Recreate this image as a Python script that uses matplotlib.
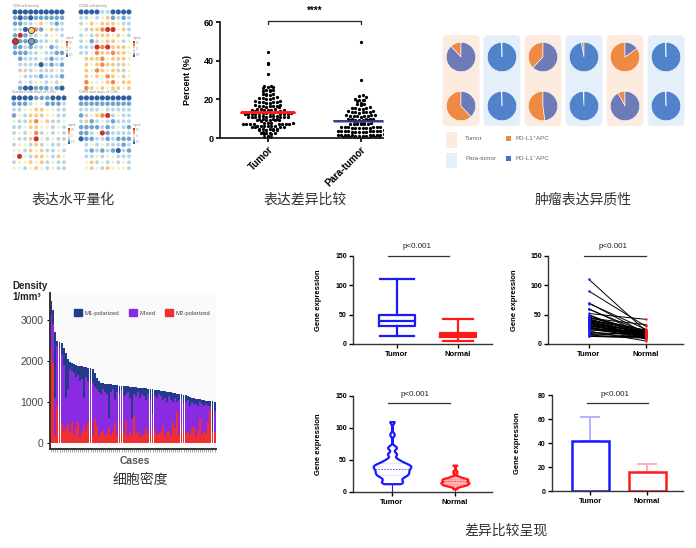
import numpy as np
import matplotlib
matplotlib.use("Agg")
import matplotlib.pyplot as plt
from matplotlib.patches import FancyBboxPatch, Rectangle
from matplotlib.colors import ListedColormap

# ======================= DATA =======================
# --- dot-matrix heatmaps (levels 0 = strong low/blue ... 6 = strong high/red, '.' = empty)
heat_titles = ["CD8 cell density", "CD68 cell density",
               "Number near days of CD8+", "CD68 near days of CD8+"]
heat_a = ["0000000000", "1010111111", "1122343212", "2204513422", "1612232332",
          "6111122323", "1121223123", "1112232211", ".122232122", ".222202121",
          ".242322232", ".322212221", ".232332323", ".100111210"]
heat_b = ["0000220000", "2232341212", "2343444322", "3244566342", "2324443432",
          "2312344323", "2226564443", "2235445443", ".444534443", ".434544243",
          ".435434423", ".434354343", ".533345344", ".543434434"]
heat_c = ["0000111000", "1112331112", "2233443322", "1324443322", "3224534223",
          "2234433232", "2323523232", "3224632322", "2332423223", "3324342232",
          "3632443243", "2334342322", "3323432322"]
heat_d = ["0000000000", "1111111111", "2222322222", "1234562322", "2412321222",
          "1111212321", "1123612222", "0112212111", ".232322212", ".212121021",
          ".223233222", ".342323232", ".343243332"]
heat_highlight_a = [(3, 3), (5, 0), (5, 3)]   # (row, col) of outlined dots

# --- percent scatter (Tumor vs Para-tumor)
dot_groups = ["Tumor", "Para-tumor"]
tumor_pct = [44.5, 38.2, 38.8, 33.0,
             26.2, 26.5, 26.8, 26.0, 27.0, 24.3, 24.6, 24.9, 24.1, 25.0,
             22.4, 22.8, 22.1, 23.0, 22.6, 20.2, 20.5, 20.8, 20.0, 21.0, 20.6,
             18.4, 18.7, 18.2, 19.0, 18.5, 18.9, 18.1, 18.6,
             16.5, 16.2, 16.8, 17.0, 16.4, 16.6, 16.1, 16.9, 16.3,
             14.5, 14.8, 14.2, 15.0, 14.6, 14.4, 14.9, 14.1, 14.7, 14.3,
             12.6, 12.9, 12.3, 13.1, 12.7, 12.5, 13.0, 12.4, 12.8, 12.2, 13.2, 12.6, 12.9, 12.5,
             10.9, 11.2, 11.0, 11.4, 10.8, 11.1, 11.3, 10.7, 11.5, 11.0, 11.2, 10.9,
             9.3, 9.6, 9.0, 9.8, 9.4, 9.2, 9.7, 9.5, 9.1, 9.9,
             7.4, 7.7, 7.1, 7.9, 7.5, 7.3, 7.6, 7.2, 7.8, 7.0, 7.5, 7.4,
             5.9, 6.2, 5.8, 6.0, 6.3, 5.7, 6.1, 6.4, 5.9, 6.0,
             4.2, 4.5, 4.0, 4.8, 4.3, 4.6, 4.1, 4.7, 4.4,
             2.4, 2.7, 2.1, 2.9, 2.5, 2.3, 2.6, 0.5, 0.9, 0.3, 0.7]
para_pct = [49.5, 30.2, 21.0, 21.6, 22.2,
            19.2, 19.6, 20.0, 19.4, 19.8, 17.3, 17.8, 17.5, 18.0,
            15.2, 15.6, 15.9, 15.4, 15.1, 15.7,
            13.2, 13.5, 13.8, 13.1, 13.6, 13.9, 13.4, 13.7,
            11.2, 11.5, 11.8, 11.1, 11.6, 11.9, 11.4, 11.7, 11.3,
            9.1, 9.4, 9.7, 9.2, 9.5, 9.8, 9.3, 9.6, 9.9, 9.0, 9.4, 9.7,
            7.2, 7.5, 7.8, 7.1, 7.6, 7.9, 7.3, 7.4, 7.7, 7.0,
            5.1, 5.4, 5.7, 5.2, 5.5, 5.8, 5.3, 5.6, 5.9, 5.0, 5.4, 5.7,
            3.1, 3.4, 3.7, 3.2, 3.5, 3.8, 3.3, 3.6, 3.9, 3.0, 3.4, 3.7, 3.2, 3.5,
            1.1, 1.4, 1.7, 1.2, 1.5, 1.8, 1.3, 1.6, 1.9, 1.0, 1.4, 1.7, 1.2, 1.5,
            0.1, 0.3, 0.5, 0.2, 0.4, 0.0, 0.3, 0.1, 0.5, 0.2, 0.4]

# --- pies: PD-L1+ APC fraction, 6 samples x 2 rows
pie_kind = ["Tumor", "Para-tumor", "Tumor", "Para-tumor", "Tumor", "Para-tumor"]
pie_pos_top = [0.12, 0.004, 0.38, 0.03, 0.85, 0.004]
pie_pos_bottom = [0.62, 0.004, 0.52, 0.01, 0.08, 0.004]

# --- macrophage density stacked bars (80 cases)
dens_total = [3450, 3230, 2700, 2480, 2460, 2440, 2300, 2200, 2050, 1980,
              1950, 1920, 1890, 1880, 1870, 1860, 1850, 1840, 1830, 1820,
              1800, 1700, 1580, 1500, 1460, 1450, 1440, 1435, 1430, 1425,
              1420, 1410, 1400, 1395, 1390, 1385, 1380, 1375, 1370, 1360,
              1355, 1350, 1345, 1340, 1335, 1330, 1325, 1320, 1310, 1300,
              1290, 1285, 1280, 1275, 1270, 1260, 1250, 1240, 1230, 1220,
              1210, 1200, 1190, 1180, 1170, 1160, 1150, 1120, 1100, 1090,
              1080, 1070, 1060, 1050, 1040, 1030, 1020, 1015, 1010, 1000]
dens_mixed_top = [3150, 2900, 1100, 2350, 2300, 2150, 1900, 1100, 1300, 1800,
                  1750, 1700, 1600, 1650, 1500, 1550, 1100, 1600, 1500, 1550,
                  1450, 1350, 1300, 1250, 1200, 1300, 1250, 1200, 600, 1250,
                  1300, 1050, 1250, 1200, 1300, 1150, 1200, 1250, 1100, 600,
                  1200, 1150, 1250, 1100, 1200, 1150, 1050, 1200, 1100, 700,
                  1150, 1100, 1200, 1150, 1050, 1100, 1000, 1150, 1050, 1000,
                  1100, 1000, 1050, 1100, 950, 1000, 1050, 900, 1000, 950,
                  950, 900, 1000, 950, 900, 950, 900, 900, 300, 780]
dens_m2 = [2300, 1950, 200, 900, 700, 450, 300, 380, 470, 250,
           500, 200, 380, 500, 150, 260, 425, 300, 500, 630,
           200, 590, 400, 150, 260, 300, 200, 220, 350, 180,
           300, 480, 200, 500, 300, 250, 550, 150, 300, 200,
           670, 250, 300, 150, 200, 220, 350, 250, 180, 380,
           300, 200, 250, 260, 400, 150, 260, 300, 200, 500,
           350, 750, 200, 470, 300, 250, 260, 200, 350, 380,
           150, 300, 590, 200, 300, 250, 500, 810, 250, 260]
dens_labels = ["M1-polarized", "Mixed", "M2-polarized"]

# --- gene expression comparison
ge_groups = ["Tumor", "Normal"]
box_tumor = [13, 30, 40, 49, 110]      # whislo, q1, median, q3, whishi
box_normal = [5, 12, 15, 18, 42]
paired_tumor = [110, 90, 70, 69, 60, 59, 52, 50, 48, 46, 45, 44, 43, 42, 41, 40, 40, 39, 38, 37,
                36, 35, 34, 33, 32, 31, 30, 29, 28, 27, 26, 25, 24, 22, 20, 18, 16, 15, 14, 13]
paired_normal = [22, 30, 18, 25, 15, 20, 42, 12, 19, 17, 23, 33, 14, 21, 16, 11, 24, 8, 18, 13,
                 20, 15, 10, 22, 17, 14, 19, 12, 9, 16, 21, 13, 18, 5, 15, 12, 20, 11, 14, 10]
bar_mean = [42, 16]
bar_sd = [20, 6.5]
p_text = "p<0.001"

captions = ["表达水平量化", "表达差异比较", "肿瘤表达异质性", "细胞密度", "差异比较呈现"]

# ======================= FIGURE =======================
W, H = 696, 548
plt.rcParams['font.family'] = ['Liberation Sans', 'DejaVu Sans']
fig = plt.figure(figsize=(W / 100, H / 100), dpi=100)


def px_axes(l, t, r, b, **kw):
    ax = fig.add_axes([l / W, 1 - b / H, (r - l) / W, (b - t) / H], **kw)
    ax.set_facecolor('none')
    return ax


overlay = px_axes(0, 0, W, H)
overlay.set_xlim(0, W)
overlay.set_ylim(H, 0)
overlay.axis('off')
overlay.set_zorder(-1)

# ---------- captions ----------
cap_pos = [(73, 200), (305, 200), (583, 200), (140, 480), (506, 531)]
for txt, (x, y) in zip(captions, cap_pos):
    overlay.text(x, y, txt, ha='center', va='center', fontsize=10, color='#333333',
                 family=['Noto Sans CJK SC', 'DejaVu Sans'])

# ---------- heatmaps ----------
hcmap = ListedColormap(['#2E5E9E', '#6FA3CE', '#B5D6E8', '#F3EFC2', '#F9C77F', '#EF8B4B', '#C8322D'])
heat_boxes = [(12.4, 9, 64.6, 91), (78.4, 9, 131.6, 91), (11.2, 95, 66.8, 171), (78.4, 95, 131.6, 171)]
for k, (mat, box, title) in enumerate(zip([heat_a, heat_b, heat_c, heat_d], heat_boxes, heat_titles)):
    ax = px_axes(*box)
    nr, nc = len(mat), len(mat[0])
    xs, ys, vs = [], [], []
    for r, line in enumerate(mat):
        for c, ch in enumerate(line):
            if ch == '.':
                continue
            xs.append(c); ys.append(r); vs.append(int(ch))
    vs = np.array(vs)
    ax.scatter(xs, ys, c=hcmap(vs / 6.0), s=5.0 + 2.8 * np.abs(vs - 3), linewidths=0)
    if k == 0:
        for (r, c) in heat_highlight_a:
            v = int(mat[r][c])
            ax.scatter([c], [r], color=hcmap(v / 6.0), s=20, edgecolors='#444444', linewidths=0.6)
    ax.set_xlim(-0.5, nc - 0.5)
    ax.set_ylim(nr - 0.5, -0.5)
    ax.axis('off')
    overlay.text(box[0] + 1, box[1] - 3, title, fontsize=2.6, color='#888888', va='center')
    cbx = box[2] + 1
    cby = box[1] + (32 if k < 2 else 33)
    for j in range(7):
        overlay.add_patch(Rectangle((cbx, cby + j * 2.3), 2.6, 2.3, color=hcmap((6 - j) / 6.0), lw=0))
    overlay.text(cbx, cby - 2, "Legend", fontsize=1.8, color='#888888')
    for j, lab in enumerate(["0.5", "0", "-0.5"]):
        overlay.text(cbx + 3.5, cby + 2 + j * 6, lab, fontsize=1.8, color='#888888', va='center')

# ---------- percent scatter ----------
ax = px_axes(220, 22, 383, 138)
x_ppu = (358 - 267) / 1.0


def swarm_x(vals, center, binsize=1.7, d=3.5):
    vals = np.asarray(vals, float)
    rows = np.round(vals / binsize).astype(int)
    xs = np.zeros(len(vals))
    for rb in np.unique(rows):
        idx = np.where(rows == rb)[0]
        idx = idx[np.argsort(vals[idx])]
        n = len(idx)
        order = sorted(range(n), key=lambda i: (abs(i - (n - 1) / 2.0), i))
        offs = [(i - (n - 1) / 2.0) * d for i in range(n)]
        for k, ii in enumerate(idx):
            xs[ii] = center + offs[order[k]] / x_ppu
    return xs


for gi, (vals, bandc, linec, alpha) in enumerate([(tumor_pct, '#FF1A1A', '#FF1A1A', 0.95),
                                                  (para_pct, '#4A4FA3', '#2B2F7A', 0.6)]):
    pos = gi + 1
    ax.scatter(swarm_x(vals, pos), vals, s=5.5, color='black', linewidths=0, zorder=2)
    m = np.mean(vals)
    sem = np.std(vals, ddof=1) / np.sqrt(len(vals))
    ax.fill_between([pos - 0.29, pos + 0.29], m - sem, m + sem, color=bandc, alpha=alpha,
                    lw=0, zorder=3)
    ax.plot([pos - 0.29, pos + 0.29], [m, m], color=linec, lw=1.2, zorder=4)
ax.set_xlim(0.484, 2.24)
ax.set_ylim(0, 60)
ax.set_yticks([0, 20, 40, 60])
ax.set_xticks([1, 2])
ax.set_xticklabels(dot_groups, rotation=45, ha='right', rotation_mode='anchor',
                   fontsize=7, fontweight='bold')
for lab in ax.get_yticklabels():
    lab.set_fontweight('bold')
ax.tick_params(axis='y', labelsize=6.5, length=3, width=1.2, pad=1.5)
ax.tick_params(axis='x', length=3, width=1.2, pad=1.5)
for s in ['top', 'right']:
    ax.spines[s].set_visible(False)
for s in ['left', 'bottom']:
    ax.spines[s].set_linewidth(1.3)
    ax.spines[s].set_color('#222222')
ax.set_ylabel("Percent (%)", fontsize=6.5, fontweight='bold')
ax.yaxis.set_label_coords(-0.17, 0.5)
ax.plot([1, 1, 2, 2], [59, 60.3, 60.3, 59], color='#222222', lw=0.9, clip_on=False)
ax.text(1.5, 66, "****", ha='center', va='center', fontsize=7, fontweight='bold')

# ---------- pies ----------
tum_bg, para_bg = '#FDEBE0', '#E5EFFA'
orange = '#EF8A45'
for j, kind in enumerate(pie_kind):
    cx = 461 + 41 * j
    overlay.add_patch(FancyBboxPatch((cx - 18.5, 35), 37, 91,
                                     boxstyle='round,pad=0,rounding_size=5',
                                     fc=tum_bg if kind == "Tumor" else para_bg, ec='none'))
    blue = '#6D7CB8' if kind == "Tumor" else '#5083CC'
    for cy, frac in [(57, pie_pos_top[j]), (106, pie_pos_bottom[j])]:
        pax = px_axes(cx - 15, cy - 15, cx + 15, cy + 15)
        pax.pie([frac, 1 - frac], colors=[orange, blue], startangle=90, counterclock=True,
                wedgeprops=dict(edgecolor='white', linewidth=0.4))
        pax.set_xlim(-1.02, 1.02)
        pax.set_ylim(-1.02, 1.02)
        pax.axis('off')
overlay.add_patch(Rectangle((446, 132), 11, 16, fc=tum_bg, ec='none'))
overlay.add_patch(Rectangle((446, 153), 11, 15, fc=para_bg, ec='none'))
overlay.text(465, 139, "Tumor", fontsize=4.5, color='#666666', va='center')
overlay.text(465, 159, "Para-tumor", fontsize=4.5, color='#666666', va='center')
overlay.add_patch(Rectangle((506, 136), 5, 5, fc=orange, ec='none'))
overlay.add_patch(Rectangle((506, 156), 5, 5, fc='#4472C4', ec='none'))
overlay.text(516, 139, "PD-L1\u207aAPC", fontsize=4.5, color='#666666', va='center')
overlay.text(516, 159, "PD-L1\u207bAPC", fontsize=4.5, color='#666666', va='center')

# ---------- density stacked bars ----------
ax = px_axes(50, 293, 216, 449)
ax.set_facecolor('#FAFAFA')
xb = np.arange(len(dens_total))
tot = np.array(dens_total)
mix = np.array(dens_mixed_top)
m2 = np.array(dens_m2)
c_m1, c_mix, c_m2 = '#243B8C', '#8A2BE2', '#F03030'
ax.bar(xb, m2, width=0.92, color=c_m2, lw=0, label=dens_labels[2])
ax.bar(xb, mix - m2, bottom=m2, width=0.92, color=c_mix, lw=0, label=dens_labels[1])
ax.bar(xb, tot - mix, bottom=mix, width=0.92, color=c_m1, lw=0, label=dens_labels[0])
ax.set_xlim(-0.6, len(dens_total) - 0.3)
ax.set_ylim(-150, 3650)
ax.set_yticks([0, 1000, 2000, 3000])
ax.tick_params(axis='y', labelsize=7.5, labelcolor='#444444', length=2.5, width=0.8, pad=2)
ax.set_xticks(xb)
ax.set_xticklabels([])
ax.tick_params(axis='x', length=2, width=0.4, color='#666666')
for s in ['top', 'right']:
    ax.spines[s].set_visible(False)
for s in ['left', 'bottom']:
    ax.spines[s].set_linewidth(1.4)
    ax.spines[s].set_color('#333333')
h = [Rectangle((0, 0), 1, 1, color=c) for c in (c_m1, c_mix, c_m2)]
ax.legend(h, dens_labels, ncol=3, loc='upper right', bbox_to_anchor=(1.0, 0.93), frameon=False,
          fontsize=4.3, handlelength=1.4, handleheight=1.4, handletextpad=0.4, columnspacing=1.6,
          labelcolor='#444444')
overlay.text(12, 281, "Density\n1/mm\u00b3", fontsize=7, fontweight='bold', color='#222222',
             va='top', ha='left', linespacing=1.15)
overlay.text(135, 461, "Cases", fontsize=7.5, fontweight='bold', color='#555555', ha='center', va='center')

# ---------- gene expression panels ----------
blue_c, red_c = '#1A1AFF', '#FF1A1A'


def gp_style(ax, yticks, top):
    for s in ['top', 'right']:
        ax.spines[s].set_visible(False)
    for s in ['left', 'bottom']:
        ax.spines[s].set_linewidth(1.0)
        ax.spines[s].set_color('#333333')
    ax.set_ylim(0, top)
    ax.set_yticks(yticks)
    ax.set_xticks([1, 2])
    ax.set_xticklabels(ge_groups, fontsize=5.5, fontweight='bold')
    for lab in ax.get_yticklabels():
        lab.set_fontweight('bold')
    ax.tick_params(axis='y', labelsize=5, length=3, width=1, pad=1.5)
    ax.tick_params(axis='x', length=3, width=1, pad=2)
    ax.set_ylabel("Gene expression", fontsize=5.5, fontweight='bold')


def p_mark(ax, x1, x2, yline, ytext, xt):
    ax.plot([x1, x2], [yline, yline], color='#333333', lw=0.9, clip_on=False)
    ax.text(xt, ytext, p_text, ha='center', va='center', fontsize=5.8, color='#222222', clip_on=False)


# box plot
ax = px_axes(353, 256, 492, 344)
st = []
for b in (box_tumor, box_normal):
    st.append(dict(whislo=b[0], q1=b[1], med=b[2], q3=b[3], whishi=b[4], fliers=[]))
art = ax.bxp(st, positions=[1, 2], widths=0.6, showfliers=False, capwidths=[0.55, 0.5])
for i, col in enumerate([blue_c, red_c]):
    art['boxes'][i].set(color=col, lw=1.6)
    art['medians'][i].set(color=col, lw=1.6)
    for w in art['whiskers'][2 * i:2 * i + 2] + art['caps'][2 * i:2 * i + 2]:
        w.set(color=col, lw=1.6)
ax.set_xlim(0.28, 2.56)
gp_style(ax, [0, 50, 100, 150], 150)
ax.yaxis.set_label_coords(-0.22, 0.5)
p_mark(ax, 0.85, 1.85, 150, 167, 1.33)

# paired lines
ax = px_axes(548, 256, 683, 344)
for t, n in zip(paired_tumor, paired_normal):
    ax.plot([1, 2], [t, n], color='black', lw=0.7, zorder=2)
ax.scatter(np.ones(len(paired_tumor)), paired_tumor, s=3, color=blue_c, zorder=3, linewidths=0)
ax.scatter(np.full(len(paired_normal), 2), paired_normal, s=3, color=red_c, zorder=3, linewidths=0)
ax.set_xlim(0.28, 2.65)
gp_style(ax, [0, 50, 100, 150], 150)
ax.yaxis.set_label_coords(-0.22, 0.5)
p_mark(ax, 0.91, 2.0, 150, 167, 1.42)

# violin
ax = px_axes(353, 396, 492, 492)
vp = ax.violinplot([paired_tumor, paired_normal], positions=[1, 2], widths=[0.6, 0.45],
                   showextrema=False, bw_method=0.15)
for body, col, fc in zip(vp['bodies'], [blue_c, red_c], ['white', '#FFB3B3']):
    body.set_facecolor(fc)
    body.set_edgecolor(col)
    body.set_linewidth(1.6)
    body.set_alpha(1)
for pos, data, col, hw in [(1, paired_tumor, blue_c, 0.27), (2, paired_normal, red_c, 0.2)]:
    med = np.median(data)
    q1, q3 = np.percentile(data, [25, 75])
    ax.plot([pos - hw, pos + hw], [med, med], color=col, lw=0.6, ls=(0, (2, 1.5)), alpha=0.8)
    ax.plot([pos - hw * 0.8, pos + hw * 0.8], [q1, q1], color=col, lw=0.4, ls=':', alpha=0.5)
    ax.plot([pos - hw * 0.8, pos + hw * 0.8], [q3, q3], color=col, lw=0.4, ls=':', alpha=0.5)
    ax.plot([pos, pos], [0, min(data)], color=col, lw=0.8)
ax.set_xlim(0.38, 2.59)
gp_style(ax, [0, 50, 100, 150], 150)
ax.yaxis.set_label_coords(-0.22, 0.5)
p_mark(ax, 0.94, 1.93, 139, 153, 1.37)

# bar with SD
ax = px_axes(552, 395, 683, 491)
for pos, m, sd, col, ecol in [(1, bar_mean[0], bar_sd[0], blue_c, '#A5A5FF'),
                              (2, bar_mean[1], bar_sd[1], red_c, '#FFA5A5')]:
    ax.errorbar([pos], [m], yerr=[[0], [sd]], color=ecol, lw=1.2, capsize=7, capthick=1.2, zorder=1)
    ax.bar([pos], [m], width=0.65, facecolor='white', edgecolor=col, linewidth=1.8, zorder=2)
ax.set_xlim(0.33, 2.63)
gp_style(ax, [0, 20, 40, 60, 80], 80)
ax.yaxis.set_label_coords(-0.24, 0.5)
p_mark(ax, 0.95, 2.02, 73.3, 80.8, 1.44)

fig.savefig("out.png", dpi=100)
